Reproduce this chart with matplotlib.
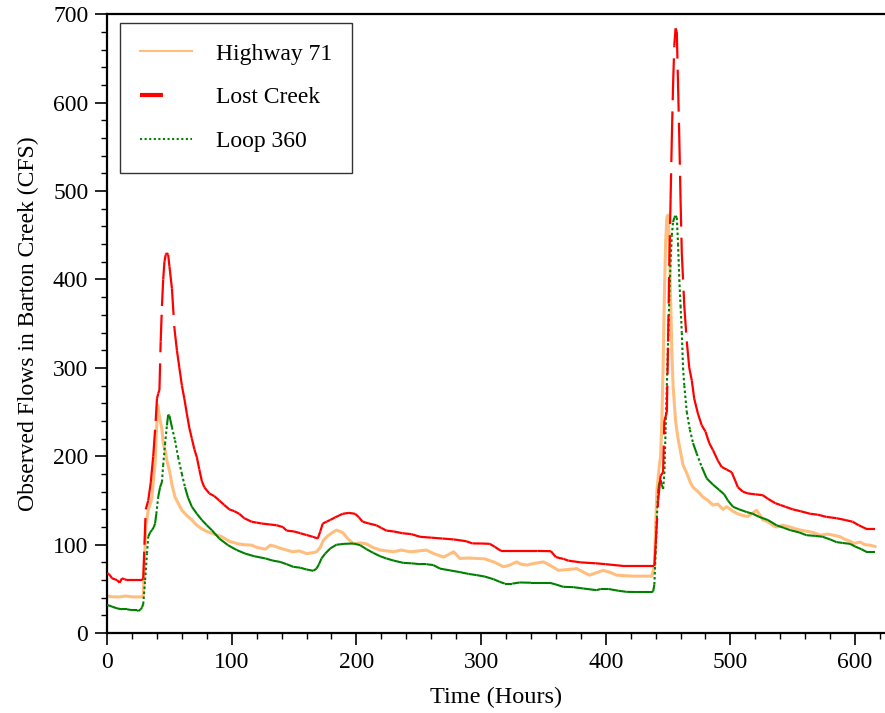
import matplotlib
matplotlib.use("Agg")
import matplotlib.pyplot as plt
import numpy as np
from matplotlib.collections import LineCollection
from matplotlib.lines import Line2D
from matplotlib.ticker import MultipleLocator

plt.rcParams["font.family"] = ["Liberation Serif", "DejaVu Serif"]

# Lost Creek (red)
lost_t = [0, 2, 4, 8, 10, 12, 14, 16, 28, 29, 30, 31, 33, 35, 37, 39, 40, 41, 42, 43, 44, 45, 46, 47,
          48, 49, 50, 52, 54, 56, 58, 60, 62, 64, 66, 68, 70, 72, 74, 76, 78, 82, 86, 90, 94, 98, 102,
          106, 110, 116, 120, 124, 130, 136, 141, 144, 150, 155, 160, 165, 169, 171, 173, 176, 179, 183,
          186, 189, 194, 199, 202, 205, 210, 216, 220, 224, 230, 237, 244, 251, 260, 269, 278, 288, 293,
          300, 307, 311, 316, 330, 345, 356, 360, 366, 370, 380, 392, 400, 414, 425, 439,
          440, 442, 444, 446, 447, 449, 450, 451, 452, 453, 454, 455, 456, 457, 458, 459, 460, 461, 463,
          465, 467, 469, 471, 474, 477, 480, 483, 486, 490, 493, 497, 501, 504, 506, 510, 514, 520, 526,
          530, 536, 540, 544, 550, 556, 564, 570, 577, 585, 592, 598, 603, 609, 616]
lost_q = [68, 66, 62, 60, 57, 62, 61, 60, 60, 62, 100, 140, 150, 170, 200, 240, 265, 271, 275, 330, 370,
          400, 420, 428, 430, 428, 415, 390, 345, 320, 300, 280, 265, 248, 232, 220, 208, 199, 185, 172,
          165, 158, 155, 150, 145, 140, 138, 135, 130, 126, 125, 124, 123, 122, 120, 116, 115, 113, 111,
          109, 107, 115, 124, 126, 128, 131, 133, 135, 136, 135, 131, 126, 124, 122, 119, 116, 115, 113,
          112, 109, 108, 107, 106, 104, 101.5, 101.4, 101, 97.6, 93, 93, 93, 92.7, 86, 84, 82, 80, 79,
          78, 76, 76, 76,
          100, 150, 178, 182, 240, 250, 330, 420, 490, 560, 620, 665, 684, 680, 620, 560, 490, 430, 370,
          330, 300, 286, 265, 248, 235, 228, 215, 207, 195, 188, 185, 182, 172, 165, 160, 158, 157, 156,
          152, 147, 145, 143, 140, 138, 135, 134, 131.5, 130, 128, 126, 122, 118, 118]

# Highway 71 (orange)
hwy_t = [0, 5, 10, 15, 20, 28, 29, 30, 31, 33, 35, 36, 37, 38.5, 39.5, 40.6, 42, 44, 45, 46.5, 48, 50.5,
         52, 54.5, 57, 60, 64, 68, 72, 76, 80, 86, 92, 98, 105, 110, 116, 120, 127, 131, 135, 139, 144,
         149, 154, 160, 165, 168, 171, 173.5, 177, 181, 184, 187, 189.5, 193, 197.5, 203, 208, 213, 219,
         224, 229.6, 236, 243, 250, 256, 262, 266, 270, 274, 278, 283, 290, 296.5, 303, 310, 314, 318,
         323, 328.5, 332, 336.6, 343, 350, 355, 362, 370, 376.7, 382, 387, 392, 398, 403, 408.7, 415,
         422, 430, 437, 439, 440, 441, 442, 443, 444, 445, 446, 447, 448, 449, 450, 451, 452, 453, 454,
         455, 456, 458, 460, 462, 465, 468, 470, 474, 478, 482, 486, 490, 494, 497, 500, 503, 506, 510,
         514, 518, 521, 524, 526, 530, 534, 537, 542, 548, 552, 558, 564, 568, 572, 578, 582, 588, 592,
         596, 599, 604, 608, 612, 616]
hwy_q = [42, 41, 41, 42, 41, 41, 42, 80, 120, 139, 148, 154, 170, 192, 225, 258, 245, 230, 215, 207, 195,
         181, 168, 154, 147, 139, 133, 128, 122, 118, 115, 112, 109, 104, 101, 100, 99.5, 97, 95, 99.5,
         98, 96, 94, 92, 93, 90, 91, 92, 97, 105, 110, 114, 116.5, 115, 113, 107, 101, 102, 101, 97, 94,
         93, 92, 94, 92, 93, 94, 90, 88, 86, 89, 92, 84.5, 85, 84.5, 84, 80.6, 78, 75, 77, 80.6, 78, 77,
         79, 80.6, 77, 71, 72, 73, 69, 65.6, 68, 71, 69, 65.6, 65, 64.5, 64.5, 64.5, 75, 120, 160, 175,
         190, 200, 240, 300, 380, 440, 470, 473, 440, 380, 320, 280, 260, 240, 220, 205, 190, 181, 170,
         165, 160, 154, 150, 145, 146, 140, 143, 140, 137, 135, 133, 132, 136, 139, 133, 128, 126, 122,
         120, 122, 120, 118, 116, 114.6, 113, 110.8, 112, 111, 109, 106, 104, 101.4, 103, 100, 99.5, 98]

# Loop 360 (green)
loop_t = [0, 4, 8, 12, 16, 20, 24, 25, 27, 28, 29, 30.5, 32, 33, 34.5, 36, 37.5, 38.5, 39.5, 41, 42.5,
          44, 45, 46.5, 48, 49, 50, 52, 54.5, 57, 60, 62.5, 65, 68, 72, 76, 80, 84, 90, 97, 104, 110.7,
          118, 127, 133, 138.7, 144, 149.4, 155, 160, 165.4, 168, 170, 172, 175, 179, 184, 190, 197.5,
          203, 208, 213.5, 219, 224, 230, 237.6, 244, 251, 256, 261.7, 267, 275, 283, 290, 296.5, 303,
          310, 315, 319, 325, 331, 340, 355, 360, 366, 374, 382, 392.7, 396, 402, 410, 416.7, 425, 436.7,
          438, 439, 440, 441, 442, 443, 444, 445, 446, 447, 448, 449, 450, 451, 452, 453, 454, 455, 456,
          457, 458, 459, 460, 461, 462, 463, 465, 467.5, 470, 473, 477, 481, 486, 491, 495, 498, 502,
          507, 513, 518, 523, 530, 537, 543, 548, 555, 561, 568, 574, 580, 585, 590, 596, 600, 605, 609,
          616]
loop_q = [32, 30, 28, 27, 27, 26, 26, 25, 27, 29, 33, 60, 90, 109, 114, 116.5, 120, 124, 135, 154, 165,
          171, 190, 214, 235, 247, 246, 233, 218, 199, 180, 165, 153, 143, 135, 128, 122, 116.5, 107,
          99.5, 94, 90, 87, 84.5, 82, 80.6, 78, 75, 74, 72, 70.5, 73, 78, 84.5, 90, 95.8, 100, 101, 101.4,
          99.5, 95, 90.8, 87, 84.5, 82, 79.5, 79, 78, 78, 77, 73, 71, 69, 67, 65.6, 64, 61, 58, 56, 56,
          57.3, 57, 57, 55, 52.4, 52, 50.5, 48.6, 50, 50, 48, 46.7, 46.5, 46.5,
          47, 55, 90, 130, 160, 170, 173, 168, 163, 180, 230, 280, 330, 380, 420, 450, 465, 470, 472,
          470, 440, 400, 370, 340, 300, 280, 250, 230, 215, 203, 188, 175, 168, 162, 157, 150, 143, 140,
          137, 135, 131.5, 128, 122, 119, 116.5, 114, 110.8, 110, 109, 106, 103, 102, 101, 98, 95, 92, 92]

series_names = ["Highway 71", "Lost Creek", "Loop 360"]
series_colors = ["#ffbe7d", "#ff0000", "#008000"]


def plot_segments(ax, t, q, color, lw, steep_style, steep_cut, zorder):
    """Trace segment par segment : le motif (tirets/points) n'est appliqué
    qu'aux segments raides (montées et descentes rapides)."""
    pts = ax.transData.transform(np.column_stack([t, q]))
    segs_data = np.stack([np.column_stack([t[:-1], q[:-1]]), np.column_stack([t[1:], q[1:]])], axis=1)
    dy_px = np.abs(pts[1:, 1] - pts[:-1, 1])
    steep = dy_px > steep_cut
    flat = LineCollection(segs_data[~steep], colors=color, linewidths=lw, zorder=zorder,
                          capstyle="butt", joinstyle="miter")
    ax.add_collection(flat)
    lc = LineCollection(segs_data[steep], colors=color, linewidths=lw, zorder=zorder,
                        linestyles=[steep_style], capstyle="butt")
    ax.add_collection(lc)


def style_axes(ax):
    ax.set_xlim(0, 624)
    ax.set_ylim(0, 700)
    ax.xaxis.set_major_locator(MultipleLocator(100))
    ax.xaxis.set_minor_locator(MultipleLocator(20))
    ax.yaxis.set_major_locator(MultipleLocator(100))
    ax.yaxis.set_minor_locator(MultipleLocator(20))
    ax.tick_params(which="major", direction="out", length=8.5, width=1.2, labelsize=17, pad=5)
    ax.tick_params(which="minor", direction="out", length=4.5, width=1.0)
    ax.spines["right"].set_visible(False)
    for side in ("left", "bottom", "top"):
        ax.spines[side].set_linewidth(1.6)
    ax.set_xlabel("Time (Hours)", fontsize=17.5, labelpad=10)
    ax.set_ylabel("Observed Flows in Barton Creek (CFS)", fontsize=17, labelpad=10)


def main():
    fig = plt.figure(figsize=(8.85, 7.13), dpi=100)
    ax = fig.add_axes([0.121, 0.112, 0.879, 0.868])
    style_axes(ax)

    ax.plot(hwy_t, hwy_q, color=series_colors[0], lw=2.2, zorder=2)
    plot_segments(ax, np.array(loop_t, float), np.array(loop_q, float), series_colors[2], 1.5,
                  (0, (1.2, 1.2)), 12, 3)
    plot_segments(ax, np.array(lost_t, float), np.array(lost_q, float), series_colors[1], 1.6,
                  (0, (12, 5)), 22, 4)

    handles = [
        Line2D([], [], color=series_colors[0], lw=1.5),
        Line2D([], [], color=series_colors[1], lw=3.0, linestyle=(0, (5.5, 20))),
        Line2D([], [], color=series_colors[2], lw=1.5, linestyle=(0, (1, 1.2))),
    ]
    leg = ax.legend(handles, series_names, loc="upper left", bbox_to_anchor=(0.017, 0.986),
                    fontsize=17, frameon=True, fancybox=False, edgecolor="black",
                    handlelength=2.2, handletextpad=1.0, labelspacing=0.95, borderpad=0.85,
                    borderaxespad=0)
    leg.get_frame().set_linewidth(1.0)

    fig.savefig("out.png", dpi=100)


if __name__ == "__main__":
    main()
